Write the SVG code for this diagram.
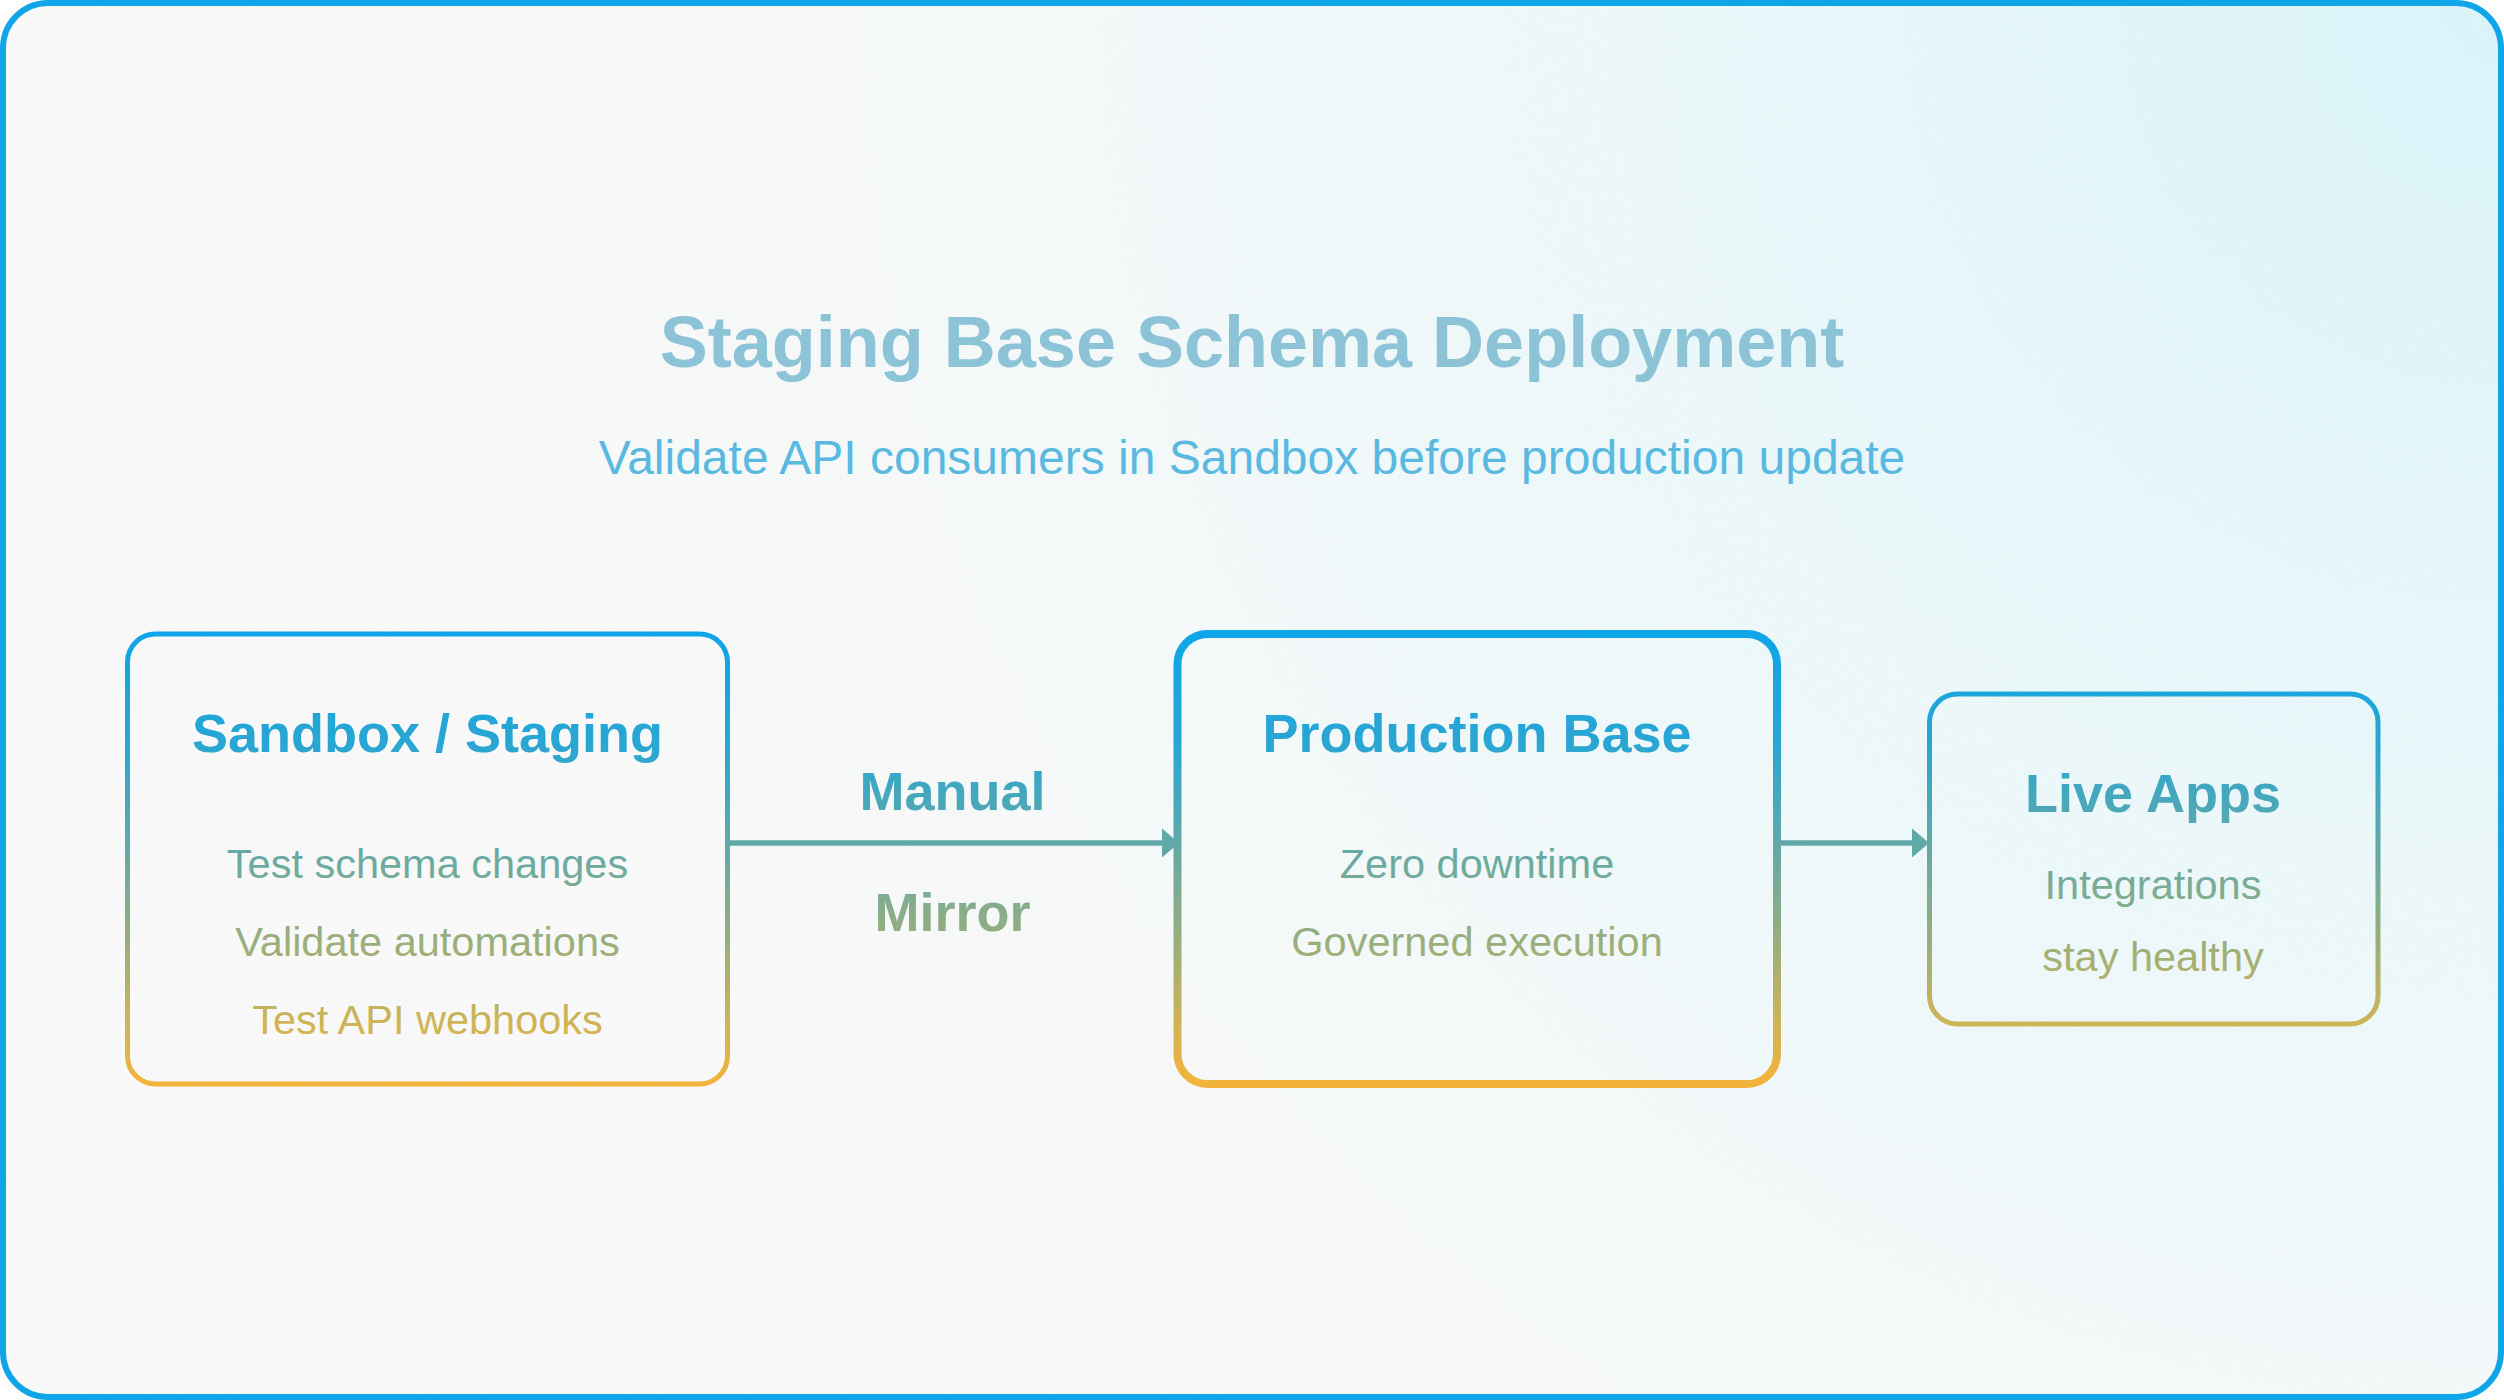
<svg xmlns="http://www.w3.org/2000/svg" width="2504" height="1400" viewBox="0 0 2504 1400">
  <defs>
    <radialGradient id="bgGrad" gradientUnits="userSpaceOnUse" cx="2504" cy="0" r="2100">
      <stop offset="0" stop-color="#d9f4fa"/>
      <stop offset="0.4" stop-color="#ebf8fa"/>
      <stop offset="0.75" stop-color="#f6f9f9"/>
      <stop offset="1" stop-color="#f9f9f9"/>
    </radialGradient>
    <linearGradient id="flow" gradientUnits="userSpaceOnUse" x1="0" y1="634" x2="0" y2="1084">
      <stop offset="0" stop-color="#0ea5e9"/>
      <stop offset="0.25" stop-color="#2aa6d2"/>
      <stop offset="0.46" stop-color="#5fa9a9"/>
      <stop offset="0.69" stop-color="#9bae7a"/>
      <stop offset="0.86" stop-color="#cdb457"/>
      <stop offset="1" stop-color="#f3b33b"/>
    </linearGradient>
    <filter id="grain" x="0" y="0" width="100%" height="100%">
      <feTurbulence type="fractalNoise" baseFrequency="0.9" numOctaves="2" seed="3" result="n"/>
      <feColorMatrix type="matrix" values="0 0 0 0 0.55  0 0 0 0 0.55  0 0 0 0 0.55  0 0 0 0.025 0"/>
    </filter>
    <style>
      .frame { fill: url(#bgGrad); stroke: #0ea5e9; stroke-width: 6; }
      .title { font-family: "Liberation Sans", Arial, sans-serif; font-weight: bold; font-size: 72px; fill: #8cc3d6; text-anchor: middle; }
      .subtitle { font-family: "Liberation Sans", Arial, sans-serif; font-size: 48px; fill: #5ab9e1; text-anchor: middle; }
      .box { fill: none; stroke: url(#flow); stroke-width: 5; }
      .box.main { stroke-width: 8; }
      .head { font-family: "Liberation Sans", Arial, sans-serif; font-weight: bold; font-size: 54px; fill: url(#flow); text-anchor: middle; }
      .body { font-family: "Liberation Sans", Arial, sans-serif; font-size: 41.5px; fill: url(#flow); text-anchor: middle; }
      .edge { stroke: url(#flow); stroke-width: 5.5; fill: none; }
      .arrow { fill: #5fa9a9; }
      .elabel { font-family: "Liberation Sans", Arial, sans-serif; font-weight: bold; font-size: 54px; fill: url(#flow); text-anchor: middle; }
    </style>
  </defs>

  <rect x="0" y="0" width="2504" height="1400" fill="#ffffff"/>
  <rect class="frame" x="3" y="3" width="2498" height="1394" rx="45" ry="45"/>
  <rect x="6" y="6" width="2492" height="1388" rx="42" ry="42" filter="url(#grain)" fill="#ffffff"/>

  <g id="header">
    <text class="title" x="1252" y="367">Staging Base Schema Deployment</text>
    <text class="subtitle" x="1252" y="474">Validate API consumers in Sandbox before production update</text>
  </g>

  <g id="connectors">
    <g id="edge-sandbox-production">
      <line class="edge" x1="730" y1="843" x2="1164" y2="843"/>
      <polygon class="arrow" points="1162,828.5 1179,843 1162,857.5"/>
      <text class="elabel" x="952.5" y="810">Manual</text>
      <text class="elabel" x="952.5" y="931">Mirror</text>
    </g>
    <g id="edge-production-live">
      <line class="edge" x1="1780" y1="843" x2="1914" y2="843"/>
      <polygon class="arrow" points="1912,828.5 1929,843 1912,857.5"/>
    </g>
  </g>

  <g id="node-sandbox">
    <rect class="box" x="127.5" y="634" width="600" height="450" rx="28" ry="28"/>
    <text class="head" x="427.5" y="752">Sandbox / Staging</text>
    <text class="body" x="427.5" y="878">Test schema changes</text>
    <text class="body" x="427.5" y="956">Validate automations</text>
    <text class="body" x="427.5" y="1034">Test API webhooks</text>
  </g>

  <g id="node-production">
    <rect class="box main" x="1177.5" y="634" width="599.5" height="450" rx="30" ry="30"/>
    <text class="head" x="1477" y="752">Production Base</text>
    <text class="body" x="1477" y="878">Zero downtime</text>
    <text class="body" x="1477" y="956">Governed execution</text>
  </g>

  <g id="node-live">
    <rect class="box" x="1929.5" y="694" width="448.5" height="330" rx="28" ry="28"/>
    <text class="head" x="2153" y="812">Live Apps</text>
    <text class="body" x="2153" y="899">Integrations</text>
    <text class="body" x="2153" y="971">stay healthy</text>
  </g>
</svg>
